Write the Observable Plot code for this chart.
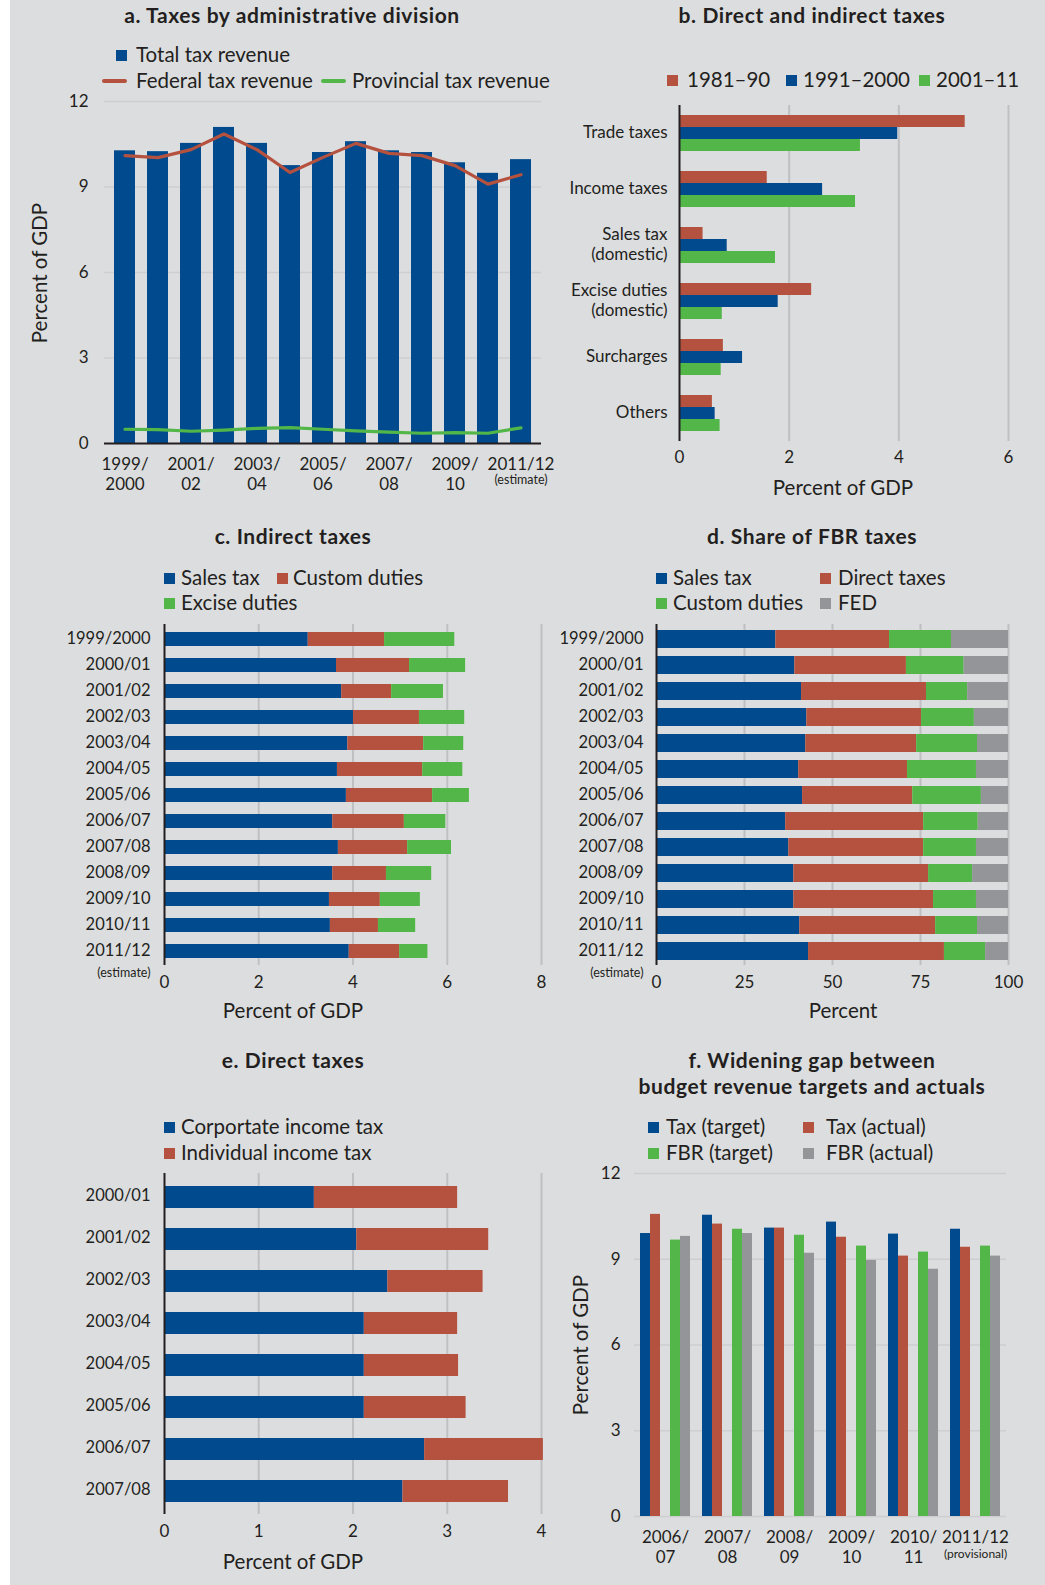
<!DOCTYPE html>
<html><head><meta charset="utf-8">
<script src="https://cdn.jsdelivr.net/npm/d3@7"></script>
<script src="https://cdn.jsdelivr.net/npm/@observablehq/plot@0.6"></script>
<style>
body{margin:0;background:#fff;}
#page{position:relative;width:1045px;height:1585px;background:#fff;overflow:hidden;font-family:Lato,"Open Sans",sans-serif;color:#231f20;}
#bg{position:absolute;left:10px;top:0;width:1035px;height:1585px;background:#dcdddf;}
.title{position:absolute;font-weight:700;font-size:21px;letter-spacing:0.6px;white-space:nowrap;transform:translate(-50%,-50%);line-height:26px;text-align:center;}
.leg{position:absolute;font-size:20.5px;white-space:nowrap;line-height:24px;}
.axt{position:absolute;font-size:20.5px;white-space:nowrap;transform:translate(-50%,-50%);line-height:24px;}
.axt.rot{transform:translate(-50%,-50%) rotate(-90deg);}
</style></head><body><div id="page"><div id="bg"></div></div>
<script>
// ---------- Panel a data ----------
const yearsA = ["1999/2000","2000/01","2001/02","2002/03","2003/04","2004/05","2005/06","2006/07","2007/08","2008/09","2009/10","2010/11","2011/12"];
const totalTaxA = [10.27,10.24,10.53,11.09,10.53,9.75,10.21,10.59,10.27,10.21,9.85,9.48,9.96];
const federalTaxA = [10.10,10.03,10.31,10.86,10.31,9.51,10.04,10.53,10.18,10.10,9.75,9.10,9.43];
const provincialTaxA = [0.50,0.49,0.43,0.47,0.53,0.56,0.50,0.44,0.40,0.36,0.38,0.36,0.55];
const tickYearsA = ["1999/2000","2001/02","2003/04","2005/06","2007/08","2009/10","2011/12"];
const tickLabelsA = ["1999/\n2000","2001/\n02","2003/\n04","2005/\n06","2007/\n08","2009/\n10","2011/12"];

// ---------- Panel b data ----------
const categoriesB = ["Trade taxes","Income taxes","Sales tax\n(domestic)","Excise duties\n(domestic)","Surcharges","Others"];
const periodsB = ["1981–90","1991–2000","2001–11"];
const b1981_90 = [5.21,1.60,0.43,2.41,0.80,0.60];
const b1991_2000 = [3.98,2.61,0.87,1.80,1.15,0.65];
const b2001_11 = [3.30,3.21,1.75,0.78,0.76,0.74];

// ---------- Panel c data ----------
const yearsC = ["1999/2000","2000/01","2001/02","2002/03","2003/04","2004/05","2005/06","2006/07","2007/08","2008/09","2009/10","2010/11","2011/12"];
const typesC = ["Sales tax","Custom duties","Excise duties"];
const salesC = [3.05,3.65,3.76,4.01,3.89,3.67,3.86,3.57,3.69,3.57,3.50,3.52,3.92];
const customC = [1.62,1.55,1.06,1.40,1.61,1.81,1.83,1.52,1.47,1.14,1.08,1.02,1.07];
const exciseC = [1.49,1.19,1.10,0.96,0.85,0.85,0.78,0.88,0.93,0.96,0.85,0.79,0.60];

// ---------- Panel d data ----------
const typesD = ["Sales tax","Direct taxes","Custom duties","FED"];
const salesD = [33.9,39.3,41.2,42.7,42.4,40.4,41.5,36.7,37.6,39.0,39.0,40.7,43.2];
const directD = [32.3,31.7,35.5,32.6,31.5,30.9,31.3,39.2,38.3,38.3,39.7,38.6,38.6];
const customD = [17.6,16.4,11.7,15.0,17.3,19.6,19.5,15.5,15.0,12.5,12.2,11.9,11.7];
const fedD = [16.2,12.6,11.6,9.7,8.8,9.1,7.7,8.6,9.1,10.2,9.1,8.8,6.5];

// ---------- Panel e data ----------
const yearsE = ["2000/01","2001/02","2002/03","2003/04","2004/05","2005/06","2006/07","2007/08"];
const typesE = ["Corportate income tax","Individual income tax"];
const corporateE = [1.59,2.04,2.37,2.12,2.12,2.12,2.76,2.53];
const individualE = [1.52,1.40,1.01,0.99,1.00,1.08,1.26,1.12];

// ---------- Panel f data ----------
const yearsF = ["2006/07","2007/08","2008/09","2009/10","2010/11","2011/12"];
const tickLabelsF = ["2006/\n07","2007/\n08","2008/\n09","2009/\n10","2010/\n11","2011/12"];
const seriesF = ["Tax (target)","Tax (actual)","FBR (target)","FBR (actual)"];
const taxTargetF = [9.90,10.54,10.09,10.30,9.88,10.05];
const taxActualF = [10.57,10.23,10.09,9.77,9.11,9.42];
const fbrTargetF = [9.67,10.05,9.84,9.46,9.25,9.46];
const fbrActualF = [9.80,9.90,9.21,8.96,8.65,9.11];

// ---------- styling ----------
const BLUE="#004a8d", RED="#b4523f", GREEN="#52b748", GREY="#949598", INK="#231f20";
const GRIDH="#cdced0", GRIDV="#bfc0c3";
const style = {background:"none", fontFamily:"Lato, 'Open Sans', sans-serif", fontSize:"17px", color:INK, overflow:"visible"};
const num = d => String(d);

const page = document.getElementById("page");
function addDiv(cls, x, y, text){ const d=document.createElement("div"); d.className=cls; d.style.left=x+"px"; d.style.top=y+"px"; d.textContent=text; page.appendChild(d); return d; }
function legendItem(sx, tx, cy, kind, color, label){
  const sw=document.createElement("div"); sw.style.position="absolute";
  if(kind==="square"){ sw.style.left=sx+"px"; sw.style.top=(cy-5.5)+"px"; sw.style.width="11px"; sw.style.height="11px"; }
  else { sw.style.left=sx+"px"; sw.style.top=(cy-2)+"px"; sw.style.width="25px"; sw.style.height="4px"; sw.style.borderRadius="2px"; }
  sw.style.background=color; page.appendChild(sw);
  addDiv("leg", tx, cy-13, label);
}
function addPlot(x, y, svg){ svg.style.position="absolute"; svg.style.left=x+"px"; svg.style.top=y+"px"; page.appendChild(svg); }

// ================= Panel a =================
addDiv("title", 292, 15, "a. Taxes by administrative division");
legendItem(116, 136, 55, "square", BLUE, "Total tax revenue");
legendItem(102, 136, 81, "line", RED, "Federal tax revenue");
legendItem(321, 352, 81, "line", GREEN, "Provincial tax revenue");
addDiv("axt rot", 39, 273, "Percent of GDP");
const dataA = yearsA.map((y,i)=>({year:y, total:totalTaxA[i], federal:federalTaxA[i], provincial:provincialTaxA[i]}));
addPlot(0, 0, Plot.plot({
  width:545, height:505, marginLeft:104, marginRight:4, marginTop:101, marginBottom:62, style,
  x:{type:"band", domain:yearsA, paddingInner:0.37, paddingOuter:0.19, axis:null},
  y:{domain:[0,12], axis:null},
  marks:[
    Plot.gridY([3,6,9,12], {stroke:GRIDH, strokeOpacity:1, strokeWidth:1.5}),
    Plot.barY(dataA, {x:"year", y:"total", fill:BLUE}),
    Plot.ruleY([0], {stroke:INK, strokeWidth:2}),
    Plot.lineY(dataA, {x:"year", y:"federal", stroke:RED, strokeWidth:3.2}),
    Plot.lineY(dataA, {x:"year", y:"provincial", stroke:GREEN, strokeWidth:3.2}),
    Plot.axisY({ticks:[0,3,6,9,12], tickSize:0, tickPadding:16, label:null, tickFormat:num}),
    Plot.axisX({ticks:tickYearsA, tickSize:0, tickPadding:12, label:null, lineHeight:1.2,
      tickFormat:d=>tickLabelsA[tickYearsA.indexOf(d)]}),
    Plot.text([yearsA[yearsA.length-1]], {x:d=>d, frameAnchor:"bottom", dy:40, text:()=>"(estimate)", fontSize:12.5})
  ]
}));

// ================= Panel b =================
addDiv("title", 812, 15, "b. Direct and indirect taxes");
legendItem(667, 687, 80, "square", RED, periodsB[0]);
legendItem(786, 803, 80, "square", BLUE, periodsB[1]);
legendItem(919, 936, 80, "square", GREEN, periodsB[2]);
addDiv("axt", 843, 487, "Percent of GDP");
const valsB = [b1981_90, b1991_2000, b2001_11];
const dataB = categoriesB.flatMap((c,i)=>periodsB.map((p,k)=>({cat:c, period:p, v:valsB[k][i]})));
addPlot(540, 0, Plot.plot({
  width:505, height:505, marginLeft:139, marginRight:37, marginTop:102, marginBottom:62, style,
  x:{domain:[0,6], axis:null},
  y:{domain:periodsB, axis:null, paddingInner:0, paddingOuter:0.7},
  fy:{domain:categoriesB, padding:0, axis:null},
  color:{domain:periodsB, range:[RED,BLUE,GREEN]},
  marks:[
    Plot.gridX([2,4,6], {stroke:GRIDV, strokeOpacity:1, strokeWidth:2}),
    Plot.barX(dataB, {x:"v", y:"period", fy:"cat", fill:"period"}),
    Plot.ruleX([0], {stroke:INK, strokeWidth:2}),
    Plot.axisX({ticks:[0,2,4,6], tickSize:0, tickPadding:9, label:null, tickFormat:num}),
    Plot.axisFy({anchor:"left", tickSize:0, tickPadding:12, label:null, lineHeight:1.2, dy:-2})
  ]
}));

// ================= Panel c =================
addDiv("title", 293, 536, "c. Indirect taxes");
legendItem(164, 181, 578, "square", BLUE, typesC[0]);
legendItem(277, 293, 578, "square", RED, typesC[1]);
legendItem(164, 181, 603, "square", GREEN, typesC[2]);
addDiv("axt", 293, 1010, "Percent of GDP");
const valsC = [salesC, customC, exciseC];
const dataC = yearsC.flatMap((y,i)=>typesC.map((t,k)=>({year:y, type:t, v:valsC[k][i]})));
addPlot(0, 505, Plot.plot({
  width:545, height:520, marginLeft:164, marginRight:4, marginTop:119, marginBottom:60, style,
  x:{domain:[0,8], axis:null},
  y:{domain:yearsC, paddingInner:0.47, paddingOuter:0.21, axis:null},
  color:{domain:typesC, range:[BLUE,RED,GREEN]},
  marks:[
    Plot.gridX([2,4,6,8], {stroke:GRIDV, strokeOpacity:1, strokeWidth:2}),
    Plot.barX(dataC, {x:"v", y:"year", fill:"type", order:typesC}),
    Plot.ruleX([0], {stroke:INK, strokeWidth:2}),
    Plot.axisX({ticks:[0,2,4,6,8], tickSize:0, tickPadding:10, label:null, tickFormat:num}),
    Plot.axisY({tickSize:0, tickPadding:14, label:null, fontSize:16.5, dy:-1}),
    Plot.text([yearsC[yearsC.length-1]], {y:d=>d, frameAnchor:"left", dx:-14, dy:21, textAnchor:"end", text:()=>"(estimate)", fontSize:12.5})
  ]
}));

// ================= Panel d =================
addDiv("title", 812, 536, "d. Share of FBR taxes");
legendItem(656, 673, 578, "square", BLUE, typesD[0]);
legendItem(820, 838, 578, "square", RED, typesD[1]);
legendItem(656, 673, 603, "square", GREEN, typesD[2]);
legendItem(820, 838, 603, "square", GREY, typesD[3]);
addDiv("axt", 843, 1010, "Percent");
const valsD = [salesD, directD, customD, fedD];
const dataD = yearsC.flatMap((y,i)=>typesD.map((t,k)=>({year:y, type:t, v:valsD[k][i]})));
addPlot(540, 505, Plot.plot({
  width:505, height:520, marginLeft:116, marginRight:37, marginTop:119, marginBottom:60, style,
  x:{domain:[0,100], axis:null},
  y:{domain:yearsC, paddingInner:0.32, paddingOuter:0.13, axis:null},
  color:{domain:typesD, range:[BLUE,RED,GREEN,GREY]},
  marks:[
    Plot.gridX([25,50,75,100], {stroke:GRIDV, strokeOpacity:1, strokeWidth:2}),
    Plot.barX(dataD, {x:"v", y:"year", fill:"type", order:typesD}),
    Plot.ruleX([0], {stroke:INK, strokeWidth:2}),
    Plot.axisX({ticks:[0,25,50,75,100], tickSize:0, tickPadding:10, label:null, tickFormat:num}),
    Plot.axisY({tickSize:0, tickPadding:13, label:null, fontSize:16.5, dy:-1}),
    Plot.text([yearsC[yearsC.length-1]], {y:d=>d, frameAnchor:"left", dx:-13, dy:21, textAnchor:"end", text:()=>"(estimate)", fontSize:12.5})
  ]
}));

// ================= Panel e =================
addDiv("title", 293, 1060, "e. Direct taxes");
legendItem(164, 181, 1127, "square", BLUE, typesE[0]);
legendItem(164, 181, 1153, "square", RED, typesE[1]);
addDiv("axt", 293, 1561, "Percent of GDP");
const valsE = [corporateE, individualE];
const dataE = yearsE.flatMap((y,i)=>typesE.map((t,k)=>({year:y, type:t, v:valsE[k][i]})));
addPlot(0, 1025, Plot.plot({
  width:545, height:560, marginLeft:164, marginRight:4, marginTop:148, marginBottom:71, style,
  x:{domain:[0,4], axis:null},
  y:{domain:yearsE, paddingInner:0.485, paddingOuter:0.26, axis:null},
  color:{domain:typesE, range:[BLUE,RED]},
  marks:[
    Plot.gridX([1,2,3,4], {stroke:GRIDV, strokeOpacity:1, strokeWidth:2}),
    Plot.barX(dataE, {x:"v", y:"year", fill:"type", order:typesE}),
    Plot.ruleX([0], {stroke:INK, strokeWidth:2}),
    Plot.axisX({ticks:[0,1,2,3,4], tickSize:0, tickPadding:10, label:null, tickFormat:num}),
    Plot.axisY({tickSize:0, tickPadding:14, label:null, fontSize:16.5, dy:-2})
  ]
}));

// ================= Panel f =================
const tF = addDiv("title", 812, 1073, ""); tF.innerHTML = "f. Widening gap between<br>budget revenue targets and actuals";
legendItem(648, 666, 1127, "square", BLUE, seriesF[0]);
legendItem(803, 826, 1127, "square", RED, seriesF[1]);
legendItem(648, 666, 1153, "square", GREEN, seriesF[2]);
legendItem(803, 826, 1153, "square", GREY, seriesF[3]);
addDiv("axt rot", 580, 1345, "Percent of GDP");
const valsF = [taxTargetF, taxActualF, fbrTargetF, fbrActualF];
const dataF = yearsF.flatMap((y,i)=>seriesF.map((s,k)=>({year:y, series:s, v:valsF[k][i]})));
const slotsF = [seriesF[0], seriesF[1], "gap", seriesF[2], seriesF[3]];
addPlot(540, 1025, Plot.plot({
  width:505, height:560, marginLeft:92, marginRight:37, marginTop:148, marginBottom:69, style,
  fx:{domain:yearsF, padding:0, axis:null},
  x:{type:"band", domain:slotsF, paddingInner:0, paddingOuter:0.49, axis:null},
  y:{domain:[0,12], axis:null},
  color:{domain:seriesF, range:[BLUE,RED,GREEN,GREY]},
  marks:[
    Plot.gridY([0,3,6,9,12], {stroke:GRIDH, strokeOpacity:1, strokeWidth:1.5}),
    Plot.barY(dataF, {fx:"year", x:"series", y:"v", fill:"series"}),
    Plot.axisY({ticks:[0,3,6,9,12], tickSize:0, tickPadding:14, label:null, tickFormat:num}),
    Plot.axisFx({anchor:"bottom", tickSize:0, tickPadding:13, label:null, lineHeight:1.15,
      tickFormat:d=>tickLabelsF[yearsF.indexOf(d)]}),
    Plot.text([yearsF[yearsF.length-1]], {fx:d=>d, frameAnchor:"bottom", dy:41, text:()=>"(provisional)", fontSize:12})
  ]
}));
</script></body></html>
